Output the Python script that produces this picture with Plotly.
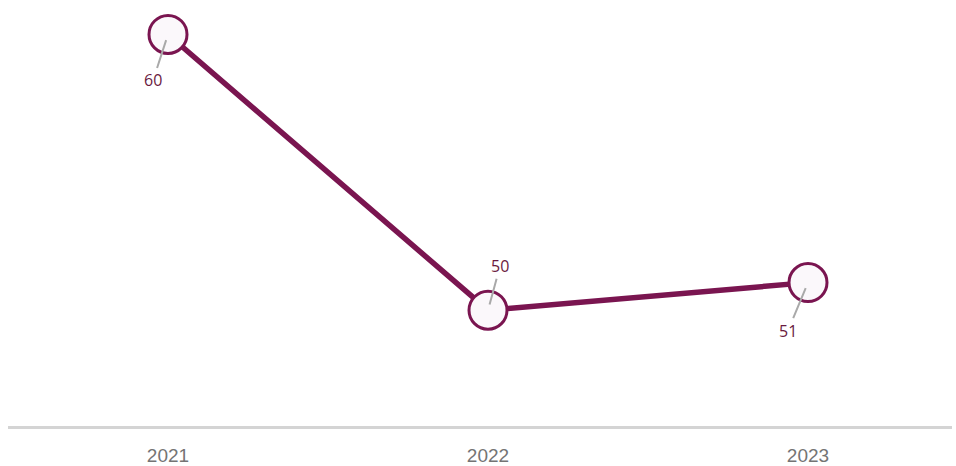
import plotly.graph_objects as go

# Data
years = ["2021", "2022", "2023"]
values = [60, 50, 51]
label_offsets = [(-15, 46), (12, -44), (-20, 48)]  # (ax, ay) in px for the value labels

LINE_COLOR = "#7a1550"
TEXT_COLOR = "#6a1a40"

xpos = list(range(len(years)))

fig = go.Figure(
    go.Scatter(
        x=xpos,
        y=values,
        mode="lines+markers",
        line=dict(color=LINE_COLOR, width=5.5),
        marker=dict(size=38, color="#fbf8fb", line=dict(color=LINE_COLOR, width=3)),
        hoverinfo="skip",
    )
)

# Value labels with a thin grey leader line into the marker
for xp, v, (ax, ay) in zip(xpos, values, label_offsets):
    fig.add_annotation(
        x=xp, y=v,
        xref="x", yref="y",
        text=str(v),
        showarrow=True,
        arrowhead=0,
        arrowwidth=2,
        arrowcolor="#a9a9a9",
        standoff=6,
        ax=ax, ay=ay,
        font=dict(family="Open Sans, sans-serif", size=16, color=TEXT_COLOR),
    )

fig.update_layout(
    width=956,
    height=466,
    margin=dict(l=8, r=4, t=0, b=34),
    plot_bgcolor="white",
    paper_bgcolor="white",
    showlegend=False,
    xaxis=dict(
        range=[-0.5, 2.45],
        tickvals=xpos,
        ticktext=years,
        showgrid=False,
        zeroline=False,
        showline=True,
        linecolor="#d4d4d4",
        linewidth=3,
        ticks="",
        ticklabelstandoff=10,
        tickfont=dict(family="Liberation Sans, Arial, sans-serif", size=19, color="#747474"),
    ),
    yaxis=dict(
        range=[45.8, 61.25],
        visible=False,
    ),
)

fig.write_html(
    "out.html",
    config={"displayModeBar": False},
    post_script="document.body.style.margin='0';",
)
